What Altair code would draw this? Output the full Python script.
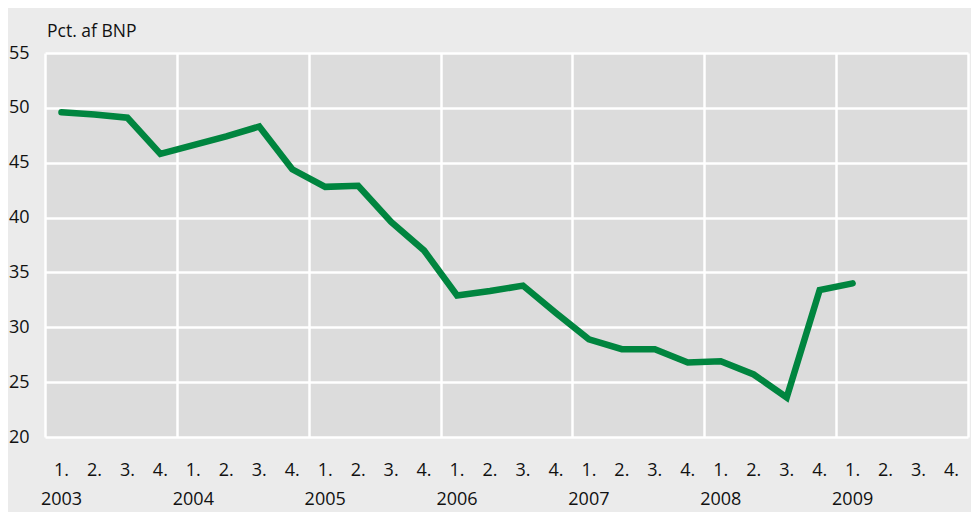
import altair as alt
import pandas as pd

years = [2003, 2004, 2005, 2006, 2007, 2008, 2009]
quarter_labels = ["1.", "2.", "3.", "4."]
values = [49.6, 49.4, 49.1, 45.8,
          46.6, 47.4, 48.3, 44.4,
          42.8, 42.9, 39.6, 37.0,
          32.9, 33.3, 33.8, 31.3,
          28.9, 28.0, 28.0, 26.8,
          26.9, 25.7, 23.6, 33.4,
          34.0]
y_title = "Pct. af BNP"

FONT = "Open Sans"
n_q = len(years) * 4

line_df = pd.DataFrame({"pos": [i + 0.5 for i in range(len(values))], "value": values})
qlab_df = pd.DataFrame({"pos": [i + 0.5 for i in range(n_q)],
                        "label": [quarter_labels[i % 4] for i in range(n_q)]})
ylab_df = pd.DataFrame({"pos": [i * 4 + 0.5 for i in range(len(years))],
                        "label": [str(y) for y in years]})
title_df = pd.DataFrame({"label": [y_title]})

xscale = alt.Scale(domain=[0, n_q], nice=False, zero=False)
yscale = alt.Scale(domain=[20, 55], nice=False, zero=False)

xaxis = alt.Axis(values=list(range(0, n_q + 1, 4)), grid=True, gridColor="white",
                 gridWidth=2.5, labels=False, ticks=False, domain=False, title=None)
yaxis = alt.Axis(values=list(range(20, 56, 5)), grid=True, gridColor="white",
                 gridWidth=2.5, ticks=False, domain=False, title=None,
                 labelFontSize=18, labelFont=FONT, labelColor="#111111",
                 labelPadding=16)

line = alt.Chart(line_df).mark_line(color="#00853f", strokeWidth=6.5, strokeCap="round").encode(
    x=alt.X("pos:Q", scale=xscale, axis=xaxis),
    y=alt.Y("value:Q", scale=yscale, axis=yaxis),
)

qlab = alt.Chart(qlab_df).mark_text(font=FONT, fontSize=18, color="#111111",
                                     baseline="middle", align="center").encode(
    x=alt.X("pos:Q", scale=xscale),
    y=alt.value(418),
    text="label:N",
)

ylab = alt.Chart(ylab_df).mark_text(font=FONT, fontSize=18, color="#111111",
                                     baseline="middle", align="center").encode(
    x=alt.X("pos:Q", scale=xscale),
    y=alt.value(447),
    text="label:N",
)

ttl = alt.Chart(title_df).mark_text(font=FONT, fontSize=17.5, color="#111111",
                                     baseline="middle", align="left").encode(
    x=alt.value(2),
    y=alt.value(-21),
    text="label:N",
)

chart = alt.layer(line, qlab, ylab, ttl).properties(
    width=923, height=384,
    background="#ebebeb",
    padding={"left": 37, "top": 45, "right": 3, "bottom": 75},
    autosize=alt.AutoSizeParams(type="none"),
).configure_view(fill="#dcdcdc", stroke=None)

chart.save("out.html", embed_options={"renderer": "svg", "actions": False})
